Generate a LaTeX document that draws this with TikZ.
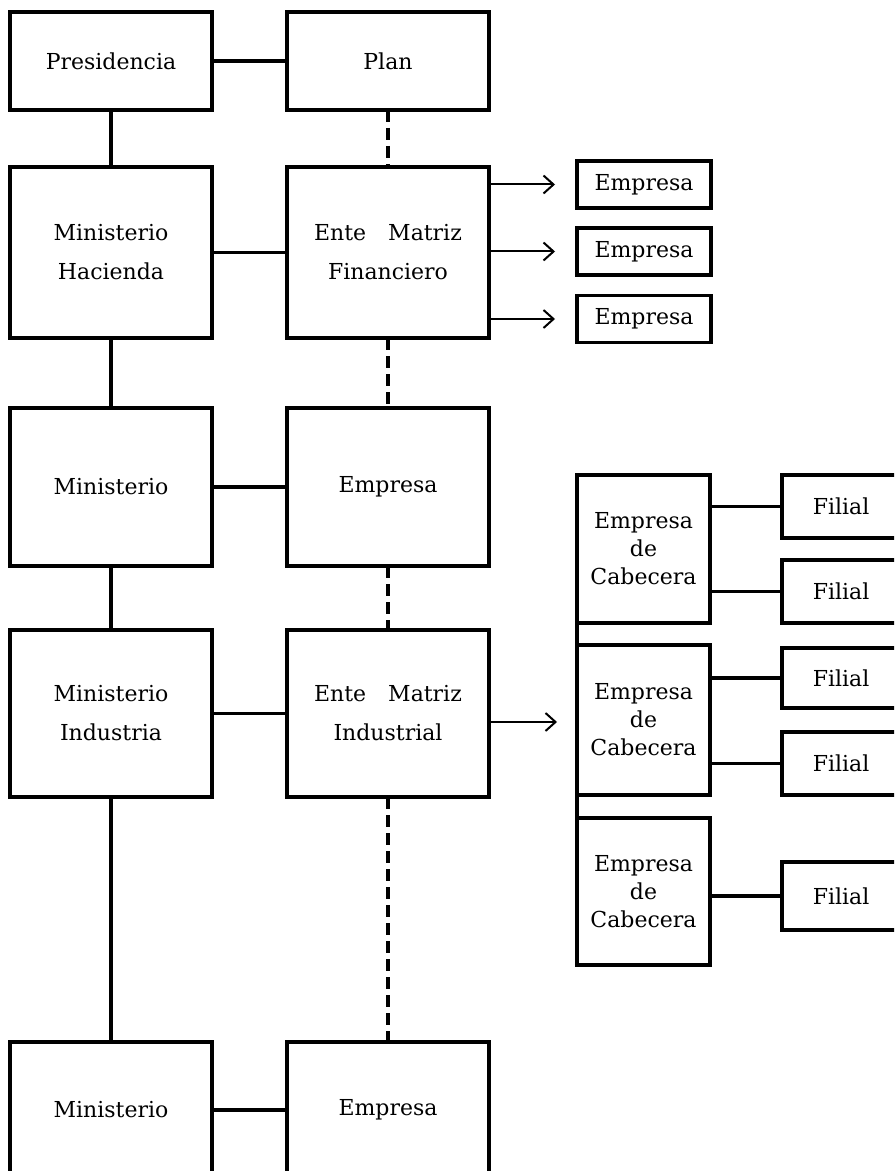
\documentclass[tikz,border=0pt]{standalone}
\usepackage{fontspec}
\setmainfont{DejaVu Serif}
\usetikzlibrary{shapes,arrows,arrows.meta}

\begin{document}
\begin{tikzpicture}[x=0.5pt,y=-0.5pt]
        % organigrama: ministerios, entes matriz y empresas
        \tikzstyle{block} = [draw,rectangle,line width=1.7pt,inner sep=0pt,outer sep=0pt,minimum width=101pt,align=center,font=\fontsize{11}{19.5}\selectfont];
        \tikzstyle{small} = [draw,rectangle,line width=1.7pt,inner sep=0pt,outer sep=0pt,align=center,font=\fontsize{11}{14}\selectfont];
        \tikzstyle{link} = [line width=1.6pt];
        \tikzstyle{dlink} = [line width=1.6pt,dash pattern=on 6pt off 3pt];
        \tikzstyle{arrow} = [-{Straight Barb[length=5pt,width=9pt]},line width=1pt];

        \useasboundingbox (0,0) rectangle (894,1171);
        \clip (0,0) rectangle (894,1171);

        \node[block,minimum height=49pt] (presid) at (111,61) {Presidencia};
        \node[block,minimum height=49pt] (plan) at (388,61) {Plan};
        \node[block,minimum height=85.5pt] (hacienda) at (111,252.5) {Ministerio\\Hacienda};
        \node[block,minimum height=85.5pt] (financ) at (388,252.5) {Ente\quad Matriz\\Financiero};
        \node[block,minimum height=79pt] (minis1) at (111,487) {Ministerio};
        \node[block,minimum height=79pt] (empr1) at (388,487) {Empresa};
        \node[block,minimum height=83.5pt] (industria) at (111,713.5) {Ministerio\\Industria};
        \node[block,minimum height=83.5pt] (indus) at (388,713.5) {Ente\quad Matriz\\Industrial};
        \node[block,minimum height=68pt] (minis2) at (111,1110) {Ministerio};
        \node[block,minimum height=68pt] (empr2) at (388,1110) {Empresa};

        \node[small,minimum width=67pt,minimum height=23.5pt] (emp1) at (644,184.5) {Empresa};
        \node[small,minimum width=67pt,minimum height=23.5pt] (emp2) at (644,251.5) {Empresa};
        \node[small,minimum width=67pt,minimum height=23.5pt] (emp3) at (644,319) {Empresa};

        \node[small,minimum width=66.5pt,minimum height=74pt] (cab1) at (643.5,549) {Empresa\\de\\Cabecera};
        \node[small,minimum width=66.5pt,minimum height=75pt] (cab2) at (643.5,720) {Empresa\\de\\Cabecera};
        \node[small,minimum width=66.5pt,minimum height=73.5pt] (cab3) at (643.5,891.5) {Empresa\\de\\Cabecera};

        \node[small,minimum width=59pt,minimum height=31.5pt] (fil1) at (841,506.5) {Filial};
        \node[small,minimum width=59pt,minimum height=31.5pt] (fil2) at (841,591.5) {Filial};
        \node[small,minimum width=59pt,minimum height=30pt] (fil3) at (841,678) {Filial};
        \node[small,minimum width=59pt,minimum height=31.5pt] (fil4) at (841,763.5) {Filial};
        \node[small,minimum width=59pt,minimum height=34pt] (fil5) at (841,896) {Filial};

        \coordinate (grp) at (557,722);

        \draw[link] (presid) -- (plan);
        \draw[link] (hacienda) -- (financ);
        \draw[link] (minis1) -- (empr1);
        \draw[link] (industria) -- (indus);
        \draw[link] (minis2) -- (empr2);

        \draw[link] (presid) -- (hacienda);
        \draw[link] (hacienda) -- (minis1);
        \draw[link] (minis1) -- (industria);
        \draw[link] (industria) -- (minis2);

        \draw[dlink] (plan) -- (financ);
        \draw[dlink] (financ) -- (empr1);
        \draw[dlink] (empr1) -- (indus);
        \draw[dlink] (indus) -- (empr2);

        \draw[arrow] (financ.east |- emp1) -- ([xshift=-11pt]emp1.west);
        \draw[arrow] (financ.east |- emp2) -- ([xshift=-11pt]emp2.west);
        \draw[arrow] (financ.east |- emp3) -- ([xshift=-11pt]emp3.west);
        \draw[arrow] (indus.east |- grp) -- (grp);

        \draw[line width=1.7pt] (cab1.north west) -- (cab3.south west);
        \draw[link] (cab1.east |- fil1) -- (fil1);
        \draw[link] (cab1.east |- fil2) -- (fil2);
        \draw[link] (cab2.east |- fil3) -- (fil3);
        \draw[link] (cab2.east |- fil4) -- (fil4);
        \draw[link] (cab3.east |- fil5) -- (fil5);

    \end{tikzpicture}
\end{document}
